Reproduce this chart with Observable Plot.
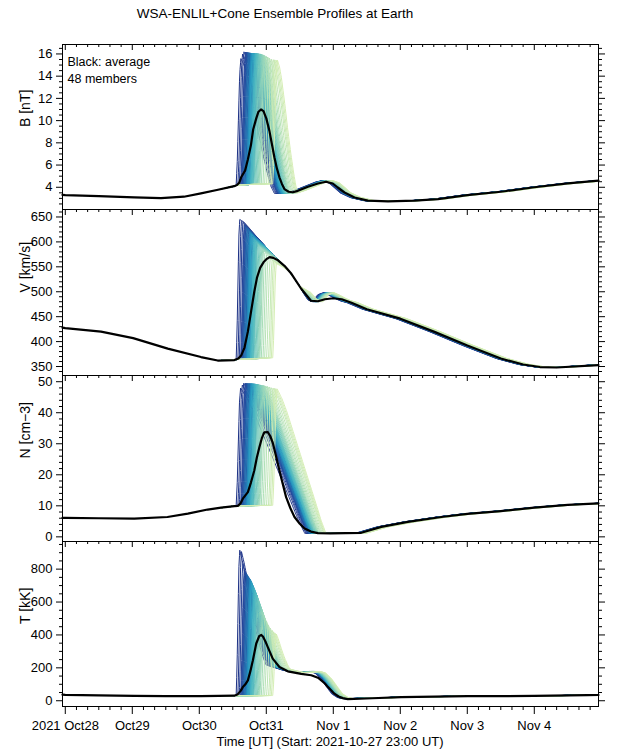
<!DOCTYPE html>
<html><head><meta charset="utf-8">
<script src="https://cdn.jsdelivr.net/npm/d3@7"></script>
<script src="https://cdn.jsdelivr.net/npm/@observablehq/plot@0.6"></script>
<style>
body{margin:0;background:#fff;}
#chart{position:relative;width:625px;height:750px;font-family:"Liberation Sans",Arial,sans-serif;color:#000;overflow:hidden;}
.panel{position:absolute;left:0;width:625px;}
#title{position:absolute;top:6px;left:0;width:550px;text-align:center;font-size:13.5px;line-height:16px;}
#xcap{position:absolute;top:734px;left:62px;width:536px;text-align:center;font-size:13px;line-height:16px;}
</style></head><body>
<div id="chart"><div id="title">WSA-ENLIL+Cone Ensemble Profiles at Earth</div><div id="xcap">Time [UT] (Start: 2021-10-27 23:00 UT)</div></div>
<script>
// ---------- time axis (hours after 2021-10-28 00:00 UT; start = -1 = Oct 27 23:00) ----------
const xDomain = [-1, 191];
const xMajor = [0, 24, 48, 72, 96, 120, 144, 168];
const xLabels = ["2021 Oct28", "Oct29", "Oct30", "Oct31", "Nov 1", "Nov 2", "Nov 3", "Nov 4"];
const xMinor = [4,8,12,16,20,28,32,36,40,44,52,56,60,64,68,76,80,84,88,92,100,104,108,112,116,124,128,132,136,140,148,152,156,160,164,172,176,180,184,188];

// ---------- shock arrival time of each of the 48 members (colour order: dark -> light) ----------
const arrival = [61.2,61.8,63.4,62.3,62.8,63.0,64.4,63.2,66.0,63.6,63.8,64.0,65.7,64.2,64.6,64.8,67.3,64.9,65.0,65.1,
  65.3,65.4,65.5,66.8,65.9,66.2,66.4,66.5,66.7,67.0,67.1,67.4,67.6,68.2,67.9,68.5,68.8,69.1,69.4,69.7,
  70.2,70.8,71.4,72.1,72.8,73.3,73.8,74.3];

// ---------- B [nT] ----------
const bAvgT = [-1,0,12,24.7,34.3,42.5,48.6,54.7,60.5,61.5,62.3,63.0,64.4,65.4,66.5,67.3,68.4,69.2,70.1,71.0,72.0,73.1,74.0,74.9,75.8,76.7,77.6,78.5,80.0,81.5,83.3,86.9,90.5,93.4,95.8,97.6,100,103.6,108.4,115.6,125.1,133.5,144,156,168,180,191];
const bAvgV = [3.32,3.30,3.2,3.09,3.02,3.15,3.45,3.78,4.1,4.2,4.4,4.9,5.5,6.5,7.8,9.2,10.2,10.8,11.0,10.85,10.2,9.1,7.9,6.7,5.7,4.9,4.3,3.84,3.6,3.55,3.68,4.05,4.34,4.5,4.34,3.98,3.53,3.08,2.8,2.73,2.8,2.94,3.3,3.6,4.0,4.35,4.6];
const bPreT = [61.2,66,72,80], bPreV = [4.18,4.25,4.3,4.3];
const bPostT = [55,76,79,81,84,88,91,93.5,96,98,100,103.6,108.4,115.6,125.1,133.5,144,156,168,180,193];
const bPostV = [3.5,3.45,3.45,3.5,3.75,4.15,4.45,4.6,4.38,3.95,3.5,3.08,2.8,2.73,2.8,2.94,3.3,3.6,4.0,4.35,4.62];
const bPeakT = [62.5,63.8,66,70,72,74,77], bPeakV = [15.3,16.2,16.1,16.0,15.8,15.5,15.4];
const bDurT = [63,70,77], bDurV = [12,9.5,7];

// ---------- V [km/s] ----------
const vAvgT = [-1,0,12.8,24.3,36.7,48.6,54.6,60.6,62,63,64.2,65.4,66.6,67.7,68.7,69.8,71.0,72.2,73.2,74.5,76.2,78.5,81,84.5,88,90.5,93,96,99,102.5,108,120,132,144,156,164,170,176,191];
const vAvgV = [428,427,420,407,386,369,362,363,366,372,388,420,462,500,529,548,559,566,569.5,568,563,552,536,506,482,481,485,487,485,478,465,446,420,392,366,354,349,348,353];
const vPreT = [61.2,66,72,76], vPreV = [364,365,367,368];
const vPostT = [55,62,64,66,68,70,72,74,76,78,80,82,84,86,88,90,92,94,96,98,100,102.5,108,120,132,144,156,164,170,176,193];
const vPostV = [660,650,642,628,614,601,589,576,565,554,542,527,511,496,484,480,494,498,493,487,482,478,465,446,420,392,366,354,349,348,354];
const vPeakT = [62.5,65,68,71,73,76], vPeakV = [645,630,603,582,568,555];
const vDurT = [63,77], vDurV = [6,5];

// ---------- N [cm-3] ----------
const nAvgT = [-1,0,12,24.7,36.6,43.9,51,55.8,60.6,61.8,62.8,63.6,65.4,66.5,67.7,68.6,69.5,70.4,71.3,72.5,73.4,74.3,75.5,76.7,77.9,79.1,80.6,82.1,84,85.7,88,90.5,95,106,113.2,122.7,134.7,144,156,168,180,191];
const nAvgV = [6.1,6.1,6.0,5.9,6.4,7.5,8.8,9.4,9.9,10.0,10.8,12.3,14.4,17.5,21.4,25.5,28.8,31.8,33.7,33.8,32.5,30.4,26,21.4,17,12.8,9.3,6.4,4.2,2.7,1.7,1.2,1.1,1.3,3.2,4.8,6.4,7.4,8.3,9.4,10.3,10.8];
const nPreT = [61.2,70,78], nPreV = [10.0,10.1,10.2];
const nPostT = [55,100,106,113.2,122.7,134.7,144,156,168,180,193];
const nPostV = [1.1,1.1,1.3,3.2,4.8,6.4,7.4,8.3,9.4,10.3,10.85];
const nPeakT = [62.5,63.8,68,72,74,77], nPeakV = [47.5,49.5,49.3,48.6,48,47.5];
const nDurT = [63,70,77], nDurV = [23,20,17];

// ---------- T [kK] ----------
const tAvgT = [-1,0,12,24.7,36,48.6,55,60.6,61.8,62.8,63.6,64.5,65.4,66.3,67.2,68.4,69.5,70.2,70.8,71.7,72.5,74.3,76.7,79.7,84.5,88.1,90.5,91.7,93,94.1,95.3,96.4,97.9,99.4,101.2,110,120.3,144.2,168,187,191];
const tAvgV = [37,36,33,30,28,28,29,31,40,60,83,100,124,180,246,348,394,400,390,360,327,256,205,179,163,155,140,124,105,83,62,43,26,16,10,15,22,28,29,34,35];
const tPreT = [61.2,70,76], tPreV = [31,31,32];
const tPostT = [55,66,72,76,79,83,86,89,91,93,95,97,99,101,110,120.3,144.2,168,187,193];
const tPostV = [270,250,225,205,188,172,172,178,168,135,88,42,20,13,15,22,28,29,34,35];
const tPeakT = [62.5,63.2,63.8,65,66.5,68,69.5,71.3,73,74.5,76], tPeakV = [915,905,800,770,730,670,600,510,450,420,400];
const tDurT = [63,70,77], tDurV = [9.5,7,4.5];

// ---------- pulse shape fractions (read from single members) ----------
const riseU = [0,.25,.5,.75,1], riseF = [0,.2,.55,.88,1];
const decU = [0,.1,.2,.35,.5,.65,.8,.9,1];

function interp(xs, ys, t) {
  if (t <= xs[0]) return ys[0];
  const n = xs.length;
  if (t >= xs[n-1]) return ys[n-1];
  const i = d3.bisectRight(xs, t) - 1;
  const u = (t - xs[i]) / (xs[i+1] - xs[i]);
  return ys[i] + u * (ys[i+1] - ys[i]);
}
const memberColor = i => d3.interpolateYlGnBu(0.9 - 0.7 * i / 47);

function buildMembers(cfg) {
  return arrival.map((ta, i) => {
    const lag = (ta - 66.5) * 0.3;
    const R = cfg.rise, tp = ta + R;
    const lagAt = t => cfg.lagWT ? lag * interp(cfg.lagWT, cfg.lagWV, t) : lag;
    const pre = t => t < cfg.cutoff ? interp(cfg.avgT, cfg.avgV, t) : interp(cfg.preT, cfg.preV, t);
    const post = t => interp(cfg.postT, cfg.postV, t - lagAt(t));
    const peak = interp(cfg.peakT, cfg.peakV, tp);
    const D = interp(cfg.durT, cfg.durV, tp);
    const p0 = pre(ta), dPeak = peak - post(tp);
    const f = t => {
      if (t < ta) return pre(t);
      if (t < tp) return p0 + (peak - p0) * interp(riseU, riseF, (t - ta) / R);
      if (t < tp + D) return post(t) + dPeak * interp(decU, cfg.decF, (t - tp) / D);
      return post(t);
    };
    const ts = [];
    for (let k = 0; k <= 270; k++) ts.push(56 + k * 0.2);
    for (let k = 1; k <= 81; k++) ts.push(110 + k);
    ts.push(ta, tp, tp + D);
    ts.sort((a, b) => a - b);
    return {color: memberColor(i), pts: ts.map(t => ({t, v: f(t)}))};
  });
}

const panels = [
  {label: "B [nT]", domain: [2.0, 16.85], major: [4,6,8,10,12,14,16], minor: d3.range(2.5, 16.6, 0.5).filter(v => v % 2 !== 0),
   cfg: {avgT: bAvgT, avgV: bAvgV, cutoff: 61.2, preT: bPreT, preV: bPreV, postT: bPostT, postV: bPostV, peakT: bPeakT, peakV: bPeakV, durT: bDurT, durV: bDurV, rise: 1.7, decF: [1,.95,.86,.68,.48,.3,.14,.05,0]},
   top: 44, h: 165, legend: true},
  {label: "V [km/s]", domain: [332, 665], major: [350,400,450,500,550,600,650], minor: d3.range(340, 661, 10).filter(v => v % 50 !== 0),
   cfg: {avgT: vAvgT, avgV: vAvgV, cutoff: 61.2, preT: vPreT, preV: vPreV, postT: vPostT, postV: vPostV, peakT: vPeakT, peakV: vPeakV, durT: vDurT, durV: vDurV, rise: 1.3, decF: [1,.9,.78,.6,.43,.28,.15,.06,0], lagWT: [84,88], lagWV: [0,1]},
   top: 209, h: 166},
  {label: "N [cm\u22123]", domain: [-1.5, 52], major: [0,10,20,30,40,50], minor: d3.range(2, 51, 2).filter(v => v % 10 !== 0),
   cfg: {avgT: nAvgT, avgV: nAvgV, cutoff: 61.2, preT: nPreT, preV: nPreV, postT: nPostT, postV: nPostV, peakT: nPeakT, peakV: nPeakV, durT: nDurT, durV: nDurV, rise: 1.6, decF: [1,.93,.84,.68,.52,.36,.2,.09,0]},
   top: 375, h: 166},
  {label: "T [kK]", domain: [-35, 968], major: [0,200,400,600,800], minor: d3.range(50, 951, 50).filter(v => v % 200 !== 0),
   cfg: {avgT: tAvgT, avgV: tAvgV, cutoff: 61.2, preT: tPreT, preV: tPreV, postT: tPostT, postV: tPostV, peakT: tPeakT, peakV: tPeakV, durT: tDurT, durV: tDurV, rise: 1.3, decF: [1,.9,.78,.58,.4,.25,.12,.05,0]},
   top: 541, h: 165, last: true}
];

const chart = document.getElementById("chart");
for (const p of panels) {
  const members = buildMembers(p.cfg);
  const avg = p.cfg.avgT.map((t, i) => ({t, v: p.cfg.avgV[i]}));
  const mb = p.last ? 44 : 0;
  const marks = [];
  for (const m of members) marks.push(Plot.line(m.pts, {x: "t", y: "v", stroke: m.color, strokeWidth: 1}));
  marks.push(Plot.line(avg, {x: "t", y: "v", stroke: "black", strokeWidth: 2.2}));
  marks.push(Plot.frame({stroke: "black", strokeWidth: 1}));
  marks.push(Plot.axisY(p.major, {anchor: "left", tickSize: 6, tickPadding: 4, fontSize: 13, label: null}));
  marks.push(Plot.axisY(p.minor, {anchor: "left", tickSize: 3, tickFormat: () => "", label: null}));
  marks.push(Plot.axisY(p.major, {anchor: "right", tickSize: 6, tickFormat: () => "", label: null}));
  marks.push(Plot.axisY(p.minor, {anchor: "right", tickSize: 3, tickFormat: () => "", label: null}));
  marks.push(Plot.tickX(xMajor, {x: d => d, insetBottom: p.h - 6, stroke: "black"}));
  marks.push(Plot.tickX(xMinor, {x: d => d, insetBottom: p.h - 3, stroke: "black"}));
  if (p.last) {
    marks.push(Plot.axisX(xMajor, {anchor: "bottom", tickSize: 8, tickPadding: 6, fontSize: 13, label: null,
      tickFormat: d => xLabels[xMajor.indexOf(d)]}));
    marks.push(Plot.axisX(xMinor, {anchor: "bottom", tickSize: 4, tickFormat: () => "", label: null}));
  }
  marks.push(Plot.text([p.label], {frameAnchor: "left", dx: -37, rotate: -90, fontSize: 14}));
  if (p.legend) {
    marks.push(Plot.text(["Black: average"], {frameAnchor: "top-left", dx: 5, dy: 13, textAnchor: "start", fontSize: 12.5}));
    marks.push(Plot.text(["48 members"], {frameAnchor: "top-left", dx: 5, dy: 29.5, textAnchor: "start", fontSize: 12.5}));
  }
  const svg = Plot.plot({
    width: 625, height: p.h + mb,
    marginLeft: 62, marginRight: 27, marginTop: 0, marginBottom: mb,
    x: p.last ? {domain: xDomain, label: null} : {domain: xDomain, label: null, axis: null},
    y: {domain: p.domain, label: null},
    style: {fontFamily: "'Liberation Sans', Arial, sans-serif", fontSize: "13px", color: "black", background: "transparent", overflow: "visible"},
    marks
  });
  const div = document.createElement("div");
  div.className = "panel";
  div.style.top = p.top + "px";
  div.appendChild(svg);
  chart.appendChild(div);
}
</script>
</body></html>
